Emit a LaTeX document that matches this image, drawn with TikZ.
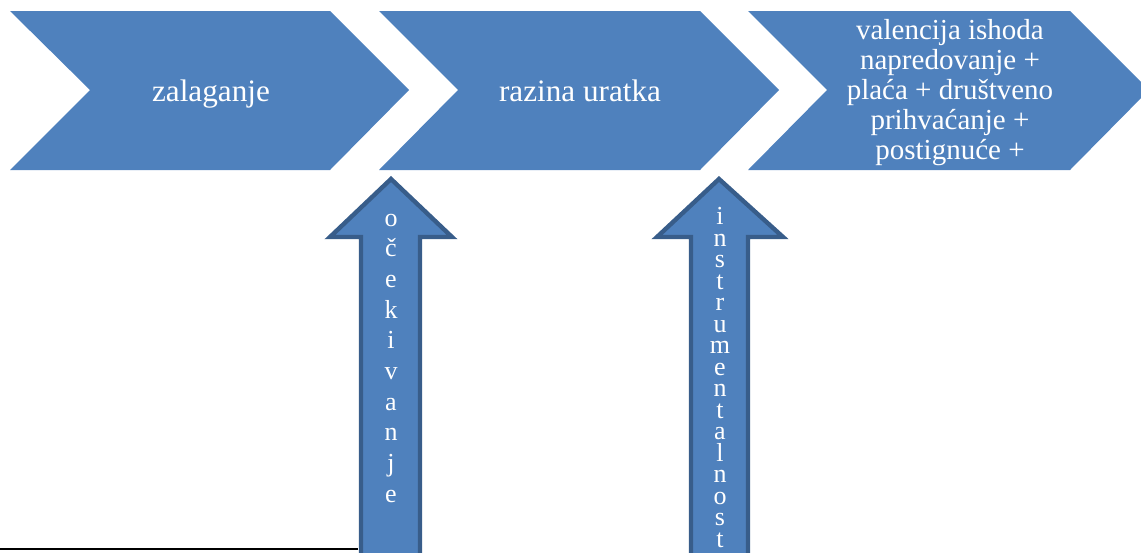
\documentclass[tikz,border=0pt]{standalone}
\usepackage{fontspec}
\setmainfont{Liberation Serif}
\definecolor{chevblue}{HTML}{4F81BD}
\definecolor{arrowedge}{HTML}{385D8A}
\tikzset{
  chev/.style={fill=chevblue, draw=none},
  uparrow/.style={fill=chevblue, draw=arrowedge, line width=2.2pt, line join=miter},
  maintext/.style={text=white, inner sep=0pt, anchor=base, font=\fontsize{15.6}{15}\selectfont},
  multitext/.style={text=white, inner sep=0pt, anchor=base, font=\fontsize{14.5}{15}\selectfont},
  lettertext/.style={text=white, inner sep=0pt, anchor=base, font=\fontsize{13}{13}\selectfont},
}
\begin{document}
\begin{tikzpicture}[x=0.5pt,y=-0.5pt]
\useasboundingbox (0,0) rectangle (1141,552);
% chevrons
\path[chev] (10,11) -- (330,11) -- (409,90) -- (330,170) -- (10,170) -- (90,90) -- cycle;
\path[chev] (379,11) -- (700,11) -- (779,90) -- (700,170) -- (379,170) -- (458,90) -- cycle;
\path[chev] (748,11) -- (1070,11) -- (1149,90) -- (1070,170) -- (748,170) -- (827,90) -- cycle;
% texts in chevrons
\node[maintext] (t1) at (211,101) {zalaganje};
\node[maintext] (t2) at (580,101) {razina uratka};
\node[multitext] (t3a) at (950,39) {valencija ishoda};
\node[multitext] (t3b) at (950,69) {napredovanje +};
\node[multitext] (t3c) at (950,99) {plaća + društveno};
\node[multitext] (t3d) at (950,129) {prihvaćanje +};
\node[multitext] (t3e) at (950,159) {postignuće +};
% up arrows
\path[uparrow] (391,179) -- (452,237) -- (420,237) -- (420,560) -- (361,560) -- (361,237) -- (330,237) -- cycle;
\path[uparrow] (719,179) -- (783,237) -- (748,237) -- (748,560) -- (691,560) -- (691,237) -- (657,237) -- cycle;
% vertical letters
\foreach \ch [count=\i] in {o,č,e,k,i,v,a,n,j,e}
  \node[lettertext] (la\i) at (391,{226+30.7*(\i-1)}) {\ch};
\foreach \ch [count=\i] in {i,n,s,t,r,u,m,e,n,t,a,l,n,o,s,t}
  \node[lettertext] (lb\i) at (720,{224.5+21.5*(\i-1)}) {\ch};
% bottom line
\coordinate (lineL) at (0,549);
\coordinate (lineR) at (358,549);
\draw[black, line width=1pt] (lineL) -- (lineR);
\end{tikzpicture}
\end{document}
